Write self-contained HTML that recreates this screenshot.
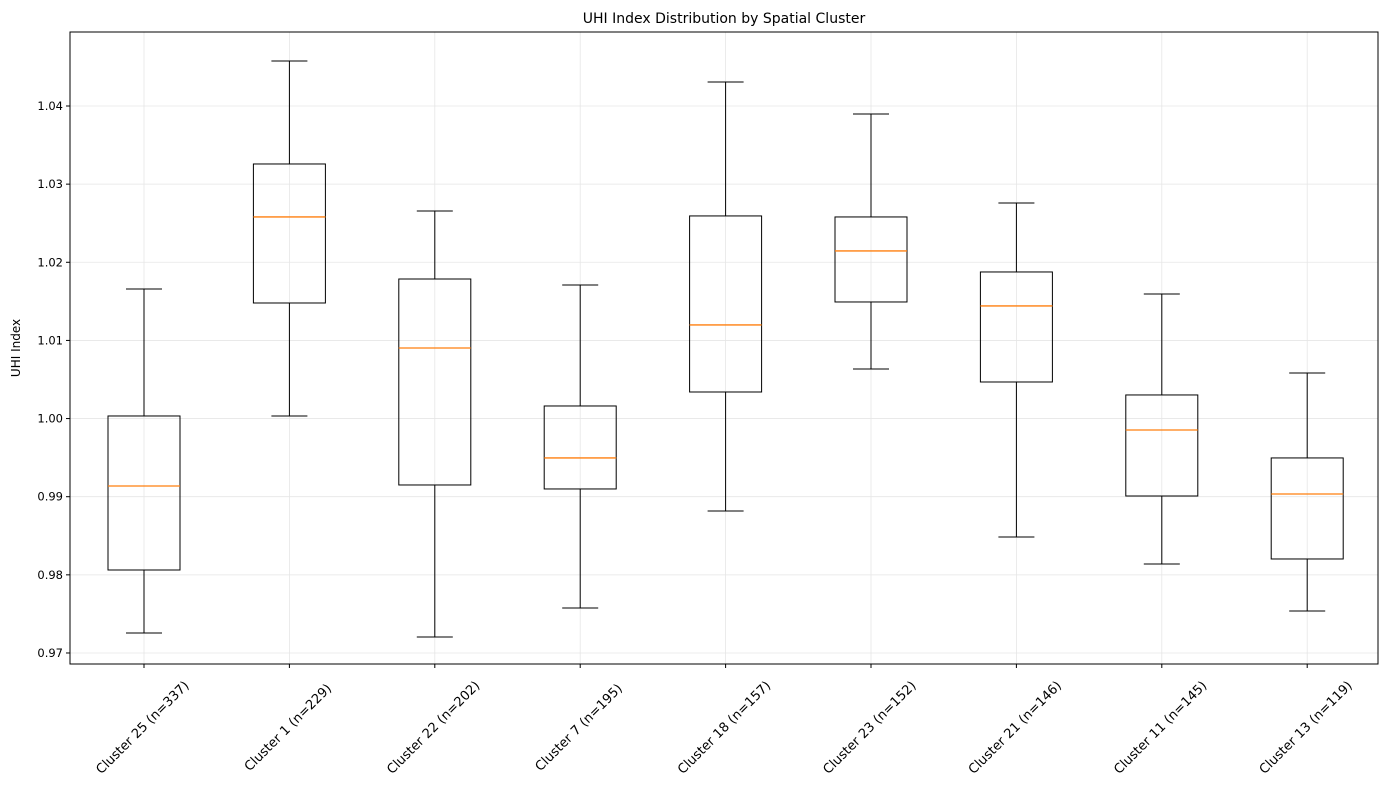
<!DOCTYPE html>
<html><head><meta charset="utf-8"><style>
body{margin:0;background:#fff;font-family:"DejaVu Sans","Liberation Sans",sans-serif}
</style></head><body>
<svg id="chart" width="1389" height="790" xmlns="http://www.w3.org/2000/svg" font-family="DejaVu Sans, Liberation Sans, sans-serif">
<rect width="1389" height="790" fill="#fff"/>
<text x="724" y="23" text-anchor="middle" font-size="14">UHI Index Distribution by Spatial Cluster</text>
<text transform="translate(20,348) rotate(-90)" text-anchor="middle" font-size="12">UHI Index</text>
<g id="grid"></g><g id="boxes"></g><g id="axes"></g>
</svg>
<script>
const categories=["Cluster 25 (n=337)","Cluster 1 (n=229)","Cluster 22 (n=202)","Cluster 7 (n=195)","Cluster 18 (n=157)","Cluster 23 (n=152)","Cluster 21 (n=146)","Cluster 11 (n=145)","Cluster 13 (n=119)"];
const whiskerLow=[0.97256,1.00033,0.97205,0.97576,0.98817,1.00634,0.98484,0.98139,0.97538];
const q1=[0.98062,1.01479,0.99150,0.99099,1.00340,1.01492,1.00468,0.99009,0.98203];
const median=[0.99137,1.0258,1.00903,0.99496,1.01198,1.02145,1.01441,0.99854,0.99035];
const q3=[1.00033,1.03258,1.01786,1.00161,1.02593,1.0258,1.01876,1.00302,0.99496];
const whiskerHigh=[1.01658,1.04576,1.02657,1.01709,1.04307,1.03898,1.02759,1.01594,1.00583];
const yTicks=[0.97,0.98,0.99,1.00,1.01,1.02,1.03,1.04];
const yTickLabels=["0.97","0.98","0.99","1.00","1.01","1.02","1.03","1.04"];

const L=70,R=1378,T=32,B=664,yMin=0.96859,yMax=1.04947;
const y=v=>B-(v-yMin)/(yMax-yMin)*(B-T);
const x=i=>144+i*145.4;
const NS="http://www.w3.org/2000/svg";
function mk(parent,tag,attrs){const e=document.createElementNS(NS,tag);for(const k in attrs)e.setAttribute(k,attrs[k]);parent.appendChild(e);return e;}
const grid=document.getElementById('grid'),boxes=document.getElementById('boxes'),axes=document.getElementById('axes');
yTicks.forEach((t,i)=>{
 const g=mk(grid,'line',{x1:L,x2:R,y1:y(t),y2:y(t),stroke:'#e6e6e6','stroke-width':0.8});
 
 
 mk(axes,'line',{x1:L-4,x2:L,y1:y(t),y2:y(t),stroke:'#000'});
 const tx=mk(axes,'text',{x:L-7,y:y(t)+4,'text-anchor':'end','font-size':11.5});
 tx.textContent=yTickLabels[i];
 
 
});
categories.forEach((c,i)=>{
 const cx=x(i),hw=36;
 const g2=mk(grid,'line',{x1:cx,x2:cx,y1:T,y2:B,stroke:'#e6e6e6','stroke-width':0.8});
 
 
 const g=mk(boxes,'g',{});
 
 
 mk(g,'line',{x1:cx,x2:cx,y1:y(whiskerHigh[i]),y2:y(q3[i]),stroke:'#000'});
 mk(g,'line',{x1:cx,x2:cx,y1:y(q1[i]),y2:y(whiskerLow[i]),stroke:'#000'});
 mk(g,'line',{x1:cx-18,x2:cx+18,y1:y(whiskerHigh[i]),y2:y(whiskerHigh[i]),stroke:'#000'});
 mk(g,'line',{x1:cx-18,x2:cx+18,y1:y(whiskerLow[i]),y2:y(whiskerLow[i]),stroke:'#000'});
 mk(g,'rect',{x:cx-hw,y:y(q3[i]),width:2*hw,height:y(q1[i])-y(q3[i]),fill:'none',stroke:'#000'});
 mk(g,'line',{x1:cx-hw,x2:cx+hw,y1:y(median[i]),y2:y(median[i]),stroke:'#ff7f0e','stroke-width':1.3});
 mk(axes,'line',{x1:cx,x2:cx,y1:B,y2:B+4,stroke:'#000'});
 const t=mk(axes,'text',{transform:`translate(${cx-1},${B+64}) rotate(-45)`,'text-anchor':'middle','dominant-baseline':'middle','font-size':13});
 t.textContent=c;
 
 
});
mk(axes,'rect',{x:L,y:T,width:R-L,height:B-T,fill:'none',stroke:'#000','stroke-width':1});
</script>
</body></html>
